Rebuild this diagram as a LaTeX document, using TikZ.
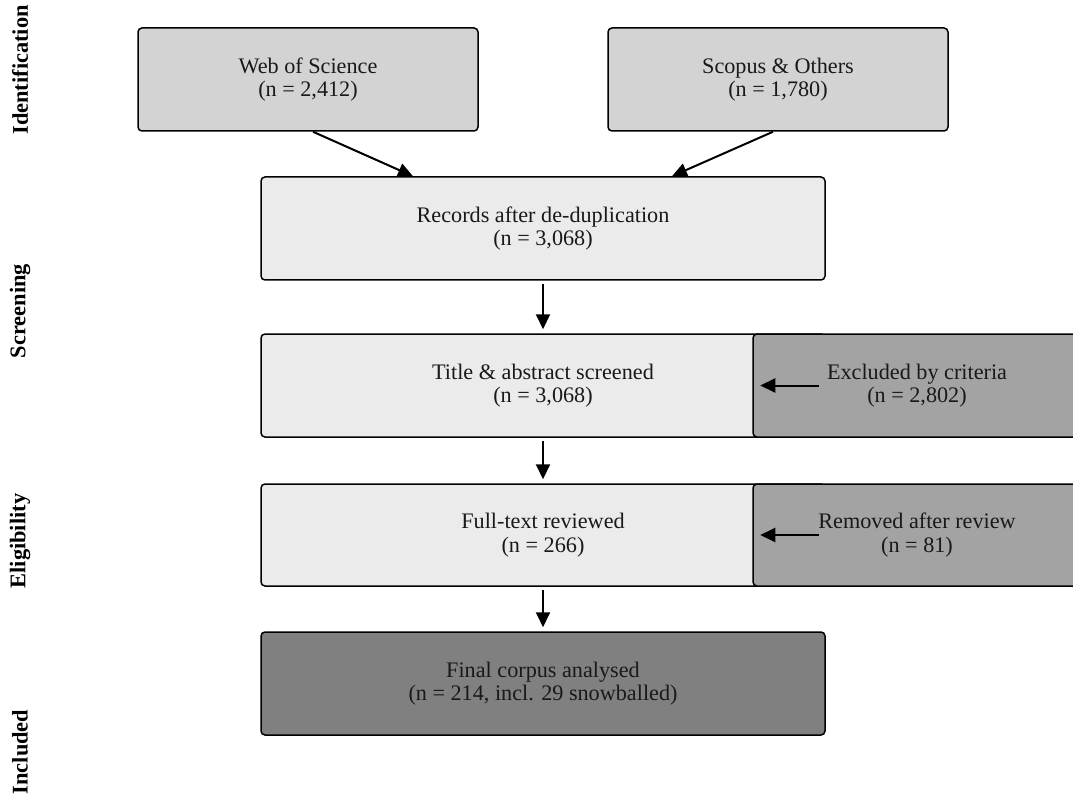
\documentclass[tikz,border=0pt]{standalone}
\usepackage{fontspec}
\setmainfont{Liberation Serif}
\usetikzlibrary{arrows.meta}

\definecolor{srcgray}{HTML}{D3D3D3}
\definecolor{stepgray}{HTML}{EBEBEB}
\definecolor{exclgray}{HTML}{A3A3A3}
\definecolor{finalgray}{HTML}{808080}

\begin{document}
\begin{tikzpicture}[x=1pt,y=-1pt,
    box/.style={draw=black, line width=1.5pt, rounded corners=4pt, align=center,
        inner sep=0pt, minimum height=103pt, text=black!90,
        font=\fontsize{22.2}{23.5}\selectfont},
    arr/.style={-{Triangle[length=15pt,width=14pt]}, line width=2pt},
    phase/.style={rotate=90, font=\bfseries\fontsize{22.4}{22}\selectfont}]

    \path[use as bounding box, clip] (0,0) rectangle (1073,794);

    % phase labels
    \node[phase] (ident) at (20,70) {Identification};
    \node[phase] (screen) at (20,311) {Screening};
    \node[phase] (elig) at (20,541) {Eligibility};
    \node[phase] (incl) at (20,752) {Included};

    % sources
    \node[box, fill=srcgray, minimum width=340pt] (wos) at (308,79.5) {Web of Science\\(n = 2,412)};
    \node[box, fill=srcgray, minimum width=340pt] (scopus) at (778,79.5) {Scopus \& Others\\(n = 1,780)};

    % main steps
    \node[box, fill=stepgray, minimum width=564pt] (rec) at (543,228.5) {Records after de-duplication\\(n = 3,068)};
    \node[box, fill=stepgray, minimum width=564pt] (title) at (543,385.5) {Title \& abstract screened\\(n = 3,068)};
    \node[box, fill=stepgray, minimum width=564pt, minimum height=102pt] (full) at (543,535) {Full-text reviewed\\(n = 266)};
    \node[box, fill=finalgray, minimum width=564pt] (final) at (543,683.5) {Final corpus analysed\\(n = 214, incl. 29 snowballed)};

    % exclusions
    \node[box, fill=exclgray, minimum width=328pt] (excl) at (917,385.5) {Excluded by criteria\\(n = 2,802)};
    \node[box, fill=exclgray, minimum width=328pt, minimum height=102pt] (removed) at (917,535) {Removed after review\\(n = 81)};

    \draw[arr] ([xshift=5pt]wos.south) -- ([xshift=-130pt]rec.north);
    \draw[arr] ([xshift=-5pt]scopus.south) -- ([xshift=129pt]rec.north);

    \draw[arr, shorten <=3pt, shorten >=4pt] (rec) -- (title);
    \draw[arr, shorten <=3pt, shorten >=4pt] (title) -- (full);
    \draw[arr, shorten <=3pt, shorten >=4pt] (full) -- (final);

    \draw[arr, shorten <=7pt, shorten >=8pt] (title.east) -- (excl.west);
    \draw[arr, shorten <=7pt, shorten >=8pt] (full.east) -- (removed.west);

\end{tikzpicture}
\end{document}
